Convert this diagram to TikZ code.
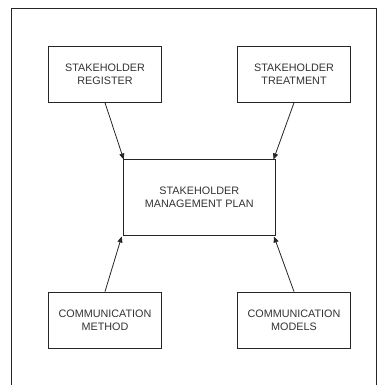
\documentclass[tikz,border=0pt]{standalone}
\usepackage{fontspec}
\setmainfont{Liberation Sans}
\usetikzlibrary{arrows.meta}
\begin{document}
\begin{tikzpicture}[x=1pt,y=-1pt,
  box/.style={draw=black!85,line width=0.9pt,fill=white,text=black!80,align=center,
    font=\fontsize{10.8}{12.6}\selectfont,inner sep=0pt},
  conn/.style={draw=black!85,line width=0.8pt,-{Triangle[length=6pt,width=5pt]}}]
\useasboundingbox (0,0) rectangle (377,385);
\draw[black!85,line width=0.9pt] (11,385) -- (11,8.5) -- (376,8.5) -- (376,385);
\node[box,minimum width=113.4pt,minimum height=56pt] (sr) at (105,74.3) {STAKEHOLDER\\REGISTER};
\node[box,minimum width=113.4pt,minimum height=56pt] (st) at (294,74.3) {STAKEHOLDER\\TREATMENT};
\node[box,minimum width=151.3pt,minimum height=75.7pt] (mp) at (199.3,197.2) {STAKEHOLDER\\MANAGEMENT PLAN};
\node[box,minimum width=113.4pt,minimum height=56.3pt] (cm) at (105,320.2) {COMMUNICATION\\METHOD};
\node[box,minimum width=113.4pt,minimum height=56.3pt] (cmo) at (294,320.2) {COMMUNICATION\\MODELS};
\coordinate (mptl) at (123.7,159.5);
\coordinate (mptr) at (273.5,159.5);
\coordinate (mpbl) at (121.7,236.5);
\coordinate (mpbr) at (274,236.5);
\draw[conn] (sr.south) -- (mptl);
\draw[conn] (st.south) -- (mptr);
\draw[conn] (cm.north) -- (mpbl);
\draw[conn] (cmo.north) -- (mpbr);
\end{tikzpicture}
\end{document}
